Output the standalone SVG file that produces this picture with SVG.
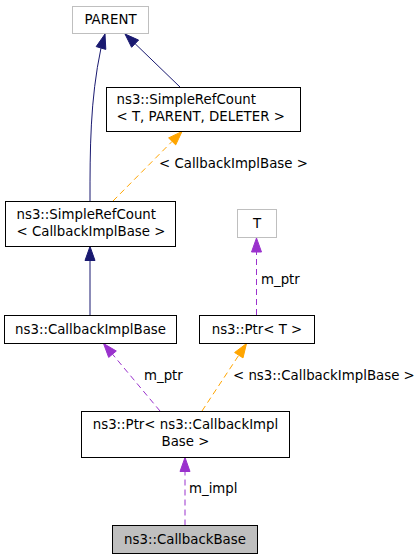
<svg xmlns="http://www.w3.org/2000/svg" width="420" height="560" viewBox="0 0 420 560">
<style>
text{font-family:"DejaVu Sans","Liberation Sans",sans-serif;font-size:13.33px;fill:#000}
.c{text-anchor:middle}
.n{fill:#fff;stroke:#000;stroke-width:1}
.g{fill:#fff;stroke:#bfbfbf;stroke-width:1}
.h{fill:#bfbfbf;stroke:#000;stroke-width:1}
.nv{stroke:#191970;fill:none;stroke-width:1}
.or{stroke:#ffa500;fill:none;stroke-width:1;stroke-dasharray:6,4}
.pu{stroke:#9a32cd;fill:none;stroke-width:1;stroke-dasharray:6,4}
.anv{fill:#191970;stroke:#191970}
.aor{fill:#ffa500;stroke:#ffa500}
.apu{fill:#9a32cd;stroke:#9a32cd}
</style>
<rect width="420" height="560" fill="#fff"/>
<g id="edges">
<path class="nv" d="M90,201 C90,150 90,100 101,48"/>
<polygon class="anv" points="105,34 105.8,49.4 96.2,46.6"/>
<path class="nv" d="M180,87 L135.1,43.7"/>
<polygon class="anv" points="125,34 131.6,47.3 138.6,40.1"/>
<path class="or" d="M113,201 L172.1,141.4"/>
<polygon class="aor" points="182,131.5 175.7,144.9 168.6,137.9"/>
<text x="159" y="168">&lt; CallbackImplBase &gt;</text>
<path class="nv" d="M90,315 L90,260.5"/>
<polygon class="anv" points="90,246.5 95,260.5 85,260.5"/>
<path class="pu" d="M256.5,315 L256.5,252"/>
<polygon class="apu" points="256.5,238 261.5,252 251.5,252"/>
<text x="261" y="284">m_ptr</text>
<path class="pu" d="M160,411 L112.5,354.2"/>
<polygon class="apu" points="103.5,343.5 116.3,351 108.7,357.4"/>
<text x="144" y="380">m_ptr</text>
<path class="or" d="M202,411 L238.8,355.2"/>
<polygon class="aor" points="246.5,343.5 243,357.9 234.6,352.5"/>
<text x="233" y="380">&lt; ns3::CallbackImplBase &gt;</text>
<path class="pu" d="M185,525.5 L185,471.5"/>
<polygon class="apu" points="185,457.5 190,471.5 180,471.5"/>
<text x="189" y="493">m_impl</text>
</g>
<g id="node-parent">
<rect class="g" x="72.5" y="6.5" width="76" height="27"/>
<text class="c" x="110.5" y="24">PARENT</text>
</g>
<g id="node-simplerefcount-tpd">
<rect class="n" x="106.5" y="87.5" width="194" height="44"/>
<text x="116.5" y="103.5">ns3::SimpleRefCount</text>
<text x="116.5" y="120.5">&lt; T, PARENT, DELETER &gt;</text>
</g>
<g id="node-simplerefcount-cib">
<rect class="n" x="5.5" y="201.5" width="170" height="45"/>
<text x="16.5" y="218.5">ns3::SimpleRefCount</text>
<text x="16.5" y="235.5">&lt; CallbackImplBase &gt;</text>
</g>
<g id="node-t">
<rect class="g" x="237.5" y="209.5" width="39" height="28"/>
<text class="c" x="257" y="228">T</text>
</g>
<g id="node-callbackimplbase">
<rect class="n" x="4.5" y="315.5" width="172" height="28"/>
<text class="c" x="90.5" y="333.5">ns3::CallbackImplBase</text>
</g>
<g id="node-ptr-t">
<rect class="n" x="199.5" y="315.5" width="115" height="28"/>
<text class="c" x="257" y="333.5">ns3::Ptr&lt; T &gt;</text>
</g>
<g id="node-ptr-cib">
<rect class="n" x="81.5" y="411.5" width="208" height="46"/>
<text class="c" x="185.5" y="428.5">ns3::Ptr&lt; ns3::CallbackImpl</text>
<text class="c" x="185.5" y="445.5">Base &gt;</text>
</g>
<g id="node-callbackbase">
<rect class="h" x="112.5" y="525.5" width="145" height="28"/>
<text class="c" x="185" y="543.5">ns3::CallbackBase</text>
</g>
</svg>
